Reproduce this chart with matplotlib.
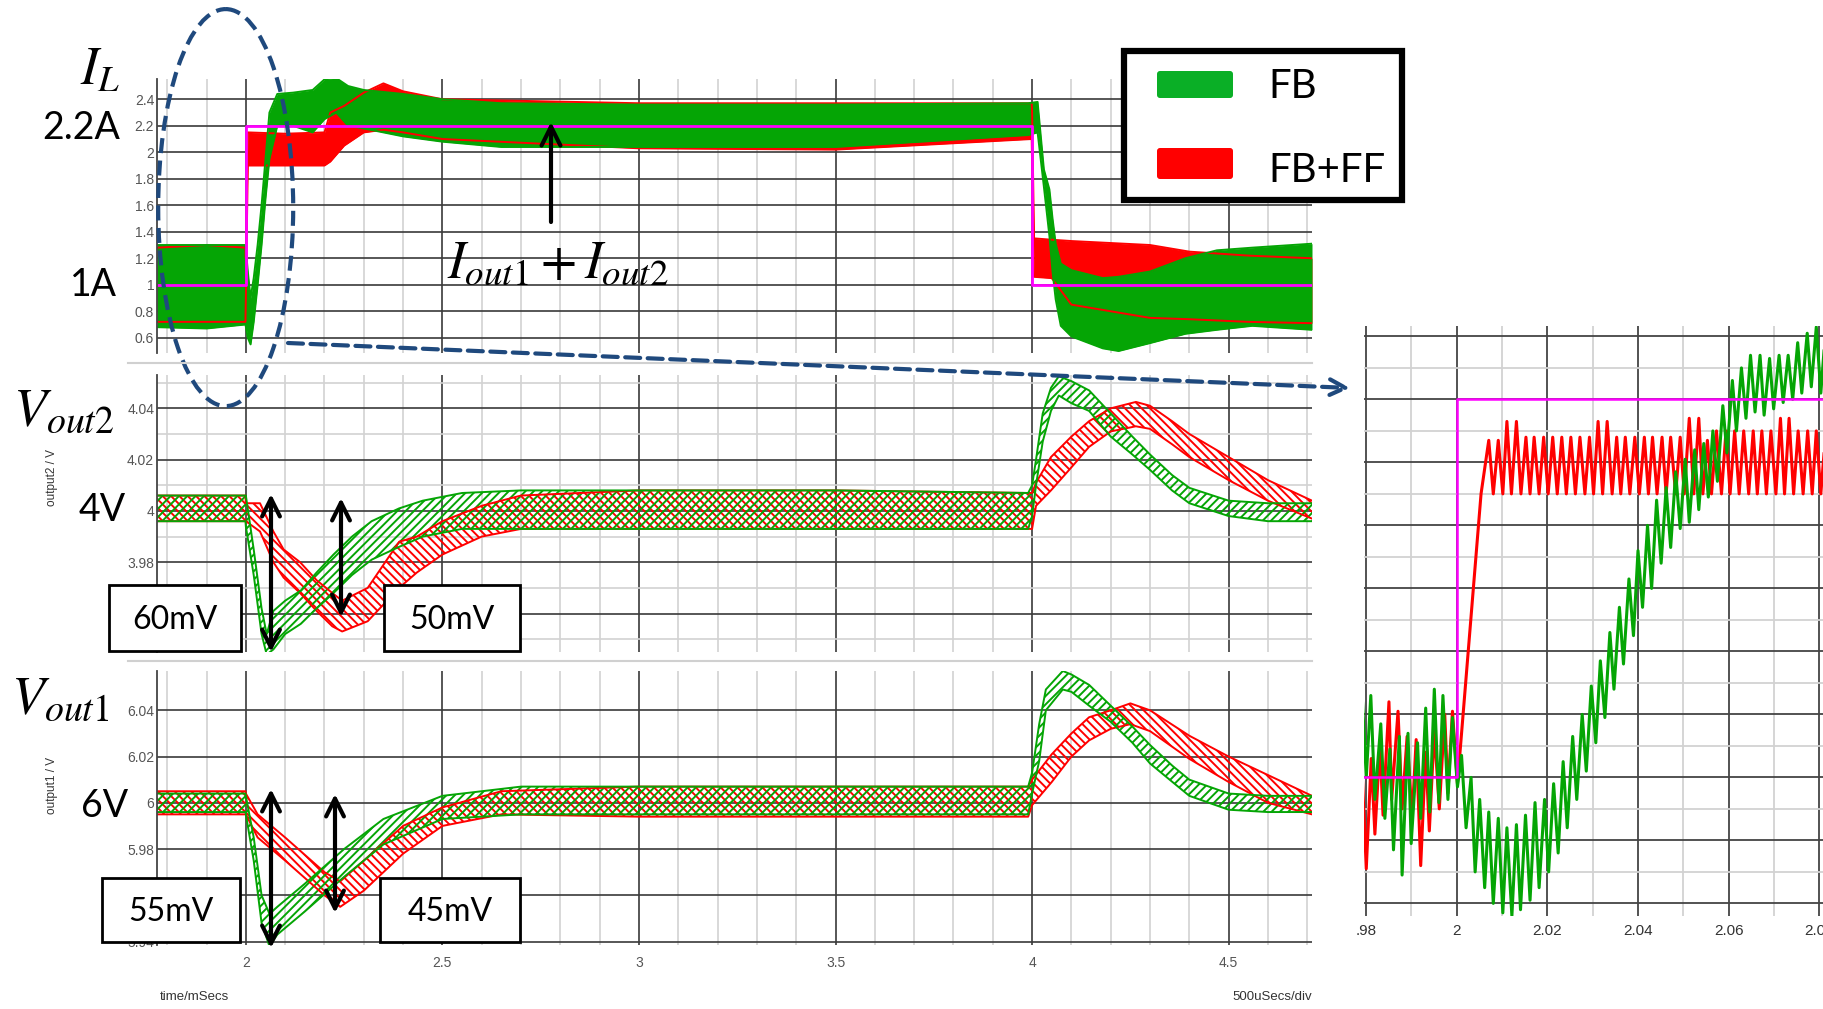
import numpy as np
import matplotlib.pyplot as plt
from matplotlib.patches import Ellipse, Rectangle, FancyBboxPatch

plt.rcParams['mathtext.fontset'] = 'stix'
plt.rcParams['hatch.linewidth'] = 1.4

W, H = 1824, 1009
GREEN = '#05a505'
RED = '#ff0000'
MAGENTA = '#ff00ff'
NAVY = '#1f497d'
TICK_FONT = ['Liberation Sans Narrow', 'Liberation Sans', 'DejaVu Sans']
BIG_FONT = ['Lato', 'DejaVu Sans']

# ---------------- data (time in ms) ----------------
# reference current step (magenta)
ref_t = [1.774, 2.0, 2.0, 4.0, 4.0, 4.712]
ref_v = [1.0, 1.0, 2.2, 2.2, 1.0, 1.0]

# inductor current I_L, ripple envelopes
il_fb_t = [1.774, 1.9, 1.999, 2.005, 2.012, 2.02, 2.03, 2.04, 2.05, 2.06, 2.08, 2.12, 2.17,
           2.2, 2.23, 2.26, 2.3, 2.4, 2.5, 2.65, 3.0, 3.5, 3.99, 4.014, 4.03, 4.044, 4.052,
           4.06, 4.073, 4.1, 4.18, 4.22, 4.3, 4.39, 4.47, 4.56, 4.712]
il_fb_hi = [1.30, 1.30, 1.30, 1.10, 0.90, 1.05, 1.30, 1.60, 1.95, 2.30, 2.44, 2.45, 2.47,
            2.55, 2.56, 2.50, 2.47, 2.44, 2.40, 2.37, 2.36, 2.36, 2.37, 2.38, 1.87, 1.72, 1.50,
            1.31, 1.16, 1.11, 1.05, 1.06, 1.10, 1.20, 1.26, 1.28, 1.31]
il_fb_lo = [0.68, 0.67, 0.70, 0.60, 0.55, 0.72, 1.00, 1.30, 1.65, 1.95, 2.20, 2.20, 2.15,
            2.25, 2.30, 2.20, 2.18, 2.12, 2.08, 2.04, 2.04, 2.04, 2.13, 2.15, 1.74, 1.37, 1.10,
            0.89, 0.69, 0.61, 0.52, 0.50, 0.56, 0.63, 0.66, 0.69, 0.66]
il_ff_t = [1.774, 1.9, 1.999, 2.0, 2.005, 2.1, 2.2, 2.215, 2.25, 2.3, 2.35, 2.4, 2.5, 3.0,
           3.5, 3.999, 4.0, 4.005, 4.05, 4.1, 4.3, 4.4, 4.55, 4.712]
il_ff_hi = [1.28, 1.30, 1.28, 1.20, 2.15, 2.14, 2.15, 2.30, 2.35, 2.45, 2.52, 2.46, 2.40, 2.37,
            2.37, 2.37, 2.30, 1.35, 1.34, 1.33, 1.30, 1.25, 1.22, 1.20]
il_ff_lo = [0.72, 0.72, 0.72, 0.90, 1.90, 1.90, 1.90, 1.93, 2.05, 2.15, 2.17, 2.15, 2.10, 2.03,
            2.02, 2.10, 1.90, 1.06, 1.05, 0.85, 0.75, 0.74, 0.72, 0.71]

# output2 voltage
v2_fb_t = [1.774, 1.999, 2.0, 2.02, 2.04, 2.053, 2.07, 2.1, 2.14, 2.18, 2.223, 2.27, 2.32,
           2.39, 2.45, 2.55, 2.7, 3.0, 3.5, 3.99, 4.0, 4.01, 4.027, 4.048, 4.068, 4.1, 4.145,
           4.2, 4.255, 4.3, 4.356, 4.4, 4.5, 4.6, 4.712]
v2_fb_hi = [4.006, 4.006, 4.006, 3.985, 3.962, 3.952, 3.961, 3.965, 3.969, 3.976, 3.983, 3.990,
            3.996, 4.001, 4.004, 4.007, 4.008, 4.008, 4.008, 4.007, 4.010, 4.020, 4.038, 4.048,
            4.0525, 4.0506, 4.047, 4.038, 4.029, 4.022, 4.014, 4.009, 4.004, 4.003, 4.003]
v2_fb_lo = [3.996, 3.996, 3.994, 3.975, 3.952, 3.944, 3.946, 3.952, 3.956, 3.962, 3.968, 3.975,
            3.981, 3.986, 3.990, 3.993, 3.993, 3.993, 3.993, 3.993, 3.998, 4.010, 4.027, 4.039,
            4.045, 4.042, 4.039, 4.029, 4.022, 4.016, 4.008, 4.003, 3.998, 3.996, 3.996]
v2_ff_t = [1.774, 1.999, 2.0, 2.036, 2.07, 2.096, 2.138, 2.18, 2.22, 2.245, 2.31, 2.39, 2.435,
           2.5, 2.6, 2.7, 3.0, 3.5, 3.99, 4.0, 4.01, 4.048, 4.1, 4.145, 4.2, 4.264, 4.3, 4.356,
           4.4, 4.5, 4.6, 4.712]
v2_ff_hi = [4.006, 4.006, 4.003, 4.003, 3.992, 3.985, 3.980, 3.973, 3.968, 3.965, 3.970, 3.988,
            3.990, 3.996, 4.002, 4.006, 4.008, 4.008, 4.007, 4.007, 4.011, 4.021, 4.029, 4.035,
            4.040, 4.0425, 4.041, 4.035, 4.030, 4.021, 4.012, 4.004]
v2_ff_lo = [3.996, 3.996, 3.996, 3.992, 3.980, 3.974, 3.968, 3.961, 3.955, 3.953, 3.957, 3.970,
            3.976, 3.983, 3.990, 3.993, 3.993, 3.993, 3.993, 3.993, 4.002, 4.008, 4.017, 4.025,
            4.031, 4.033, 4.032, 4.026, 4.021, 4.012, 4.004, 3.997]

# output1 voltage
v1_fb_t = [1.774, 1.999, 2.0, 2.02, 2.04, 2.06, 2.08, 2.15, 2.25, 2.35, 2.5, 2.7, 3.0, 3.5,
           3.99, 4.0, 4.018, 4.035, 4.078, 4.1, 4.145, 4.2, 4.255, 4.3, 4.357, 4.4, 4.5, 4.6, 4.712]
v1_fb_hi = [6.004, 6.004, 6.003, 5.985, 5.960, 5.952, 5.955, 5.965, 5.980, 5.993, 6.003, 6.007,
            6.007, 6.007, 6.007, 6.013, 6.034, 6.049, 6.057, 6.0555, 6.051, 6.042, 6.033, 6.025,
            6.016, 6.010, 6.004, 6.003, 6.003]
v1_fb_lo = [5.996, 5.996, 5.995, 5.975, 5.948, 5.938, 5.943, 5.953, 5.968, 5.982, 5.993, 5.995,
            5.995, 5.995, 5.995, 6.004, 6.018, 6.040, 6.049, 6.048, 6.042, 6.035, 6.026, 6.017,
            6.009, 6.003, 5.997, 5.996, 5.996]
v1_ff_t = [1.774, 1.999, 2.0, 2.03, 2.1, 2.2, 2.24, 2.3, 2.4, 2.5, 2.65, 3.0, 3.5, 3.99, 4.0,
           4.05, 4.1, 4.145, 4.2, 4.25, 4.3, 4.4, 4.5, 4.6, 4.712]
v1_ff_hi = [6.005, 6.005, 6.004, 5.995, 5.985, 5.970, 5.966, 5.975, 5.990, 5.998, 6.005, 6.007,
            6.007, 6.007, 6.010, 6.021, 6.030, 6.037, 6.040, 6.043, 6.040, 6.029, 6.020, 6.012, 6.003]
v1_ff_lo = [5.995, 5.995, 5.995, 5.985, 5.975, 5.960, 5.955, 5.962, 5.978, 5.990, 5.995, 5.994,
            5.994, 5.994, 5.999, 6.009, 6.020, 6.027, 6.032, 6.034, 6.031, 6.019, 6.009, 6.000, 5.995]

# zoomed inset of I_L around the step
zoom_ref_t = [1.9796, 2.0, 2.0, 2.081]
zoom_ref_v = [1.0, 1.0, 2.2, 2.2]

zoom_ff_pre_t = [1.9791, 1.9801, 1.9812, 1.9820, 1.9831, 1.9838, 1.9851, 1.9857, 1.9871, 1.9880,
                 1.9891, 1.9902, 1.9911, 1.9921, 1.9932, 1.9940, 1.9951, 1.9962, 1.9974, 1.9981,
                 1.9991, 2.0002, 2.0054]
zoom_ff_pre_v = [1.05, 0.71, 1.06, 0.82, 1.10, 0.88, 1.24, 0.93, 1.21, 0.90,
                 1.13, 0.87, 1.12, 0.72, 1.08, 0.83, 1.15, 0.90, 1.20, 0.95,
                 1.21, 0.98, 1.90]
zoom_ff_pk_t = [2.0071, 2.0092, 2.0111, 2.0132, 2.0153, 2.0171, 2.0192, 2.0212, 2.0232, 2.0252,
                2.0272, 2.0293, 2.0312, 2.0332, 2.0353, 2.0372, 2.0393, 2.0414, 2.0432, 2.0453,
                2.0472, 2.0493, 2.0513, 2.0534, 2.0553, 2.0573, 2.0594, 2.0613, 2.0633, 2.0654,
                2.0673, 2.0693, 2.0714, 2.0733, 2.0753, 2.0774, 2.0793, 2.0814]
zoom_ff_pk_v = [2.07, 2.07, 2.13, 2.13, 2.08, 2.08, 2.08, 2.08, 2.08, 2.08,
                2.08, 2.08, 2.13, 2.13, 2.08, 2.08, 2.08, 2.08, 2.08, 2.08,
                2.08, 2.08, 2.14, 2.14, 2.07, 2.10, 2.10, 2.10, 2.10, 2.10,
                2.10, 2.10, 2.14, 2.14, 2.10, 2.10, 2.10, 2.10]
zoom_ff_tr_t = [2.0081, 2.0102, 2.0121, 2.0142, 2.0162, 2.0182, 2.0202, 2.0222, 2.0242, 2.0262,
                2.0283, 2.0302, 2.0322, 2.0343, 2.0362, 2.0382, 2.0403, 2.0423, 2.0442, 2.0462,
                2.0483, 2.0502, 2.0523, 2.0543, 2.0562, 2.0584, 2.0603, 2.0623, 2.0644, 2.0663,
                2.0683, 2.0704, 2.0723, 2.0743, 2.0764, 2.0784, 2.0803, 2.0823]
zoom_ff_tr_v = [1.90, 1.90, 1.90, 1.90, 1.90, 1.90, 1.90, 1.90, 1.90, 1.90,
                1.90, 1.90, 1.90, 1.90, 1.90, 1.90, 1.90, 1.90, 1.90, 1.90,
                1.90, 1.90, 1.90, 1.90, 1.90, 1.90, 1.90, 1.90, 1.90, 1.90,
                1.90, 1.90, 1.90, 1.90, 1.90, 1.90, 1.90, 1.90]

zoom_fb_t = [1.9791, 1.9801, 1.9811, 1.9820, 1.9833, 1.9842, 1.9853, 1.9861, 1.9874, 1.9880,
             1.9893, 1.9900, 1.9914, 1.9921, 1.9932, 1.9941, 1.9951, 1.9961, 1.9970, 1.9981,
             1.9991, 2.0002, 2.0011, 2.0021, 2.0032, 2.0041, 2.0051, 2.0062, 2.0071, 2.0081,
             2.0092, 2.0102, 2.0111, 2.0122, 2.0132, 2.0141, 2.0152, 2.0162, 2.0173, 2.0182,
             2.0194, 2.0203, 2.0214, 2.0224, 2.0235, 2.0244, 2.0256, 2.0265, 2.0277, 2.0286,
             2.0297, 2.0307, 2.0317, 2.0327, 2.0338, 2.0347, 2.0359, 2.0368, 2.0380, 2.0390,
             2.0400, 2.0410, 2.0421, 2.0430, 2.0441, 2.0451, 2.0462, 2.0472, 2.0483, 2.0493,
             2.0504, 2.0513, 2.0525, 2.0534, 2.0545, 2.0555, 2.0565, 2.0575, 2.0587, 2.0596,
             2.0608, 2.0617, 2.0628, 2.0638, 2.0648, 2.0658, 2.0669, 2.0678, 2.0690, 2.0699,
             2.0711, 2.0720, 2.0731, 2.0741, 2.0752, 2.0761, 2.0773, 2.0782, 2.0793, 2.0803,
             2.0814]
zoom_fb_v = [1.29, 1.00, 1.26, 0.93, 1.17, 0.87, 1.09, 0.77, 1.13, 0.69,
             1.14, 0.79, 1.11, 0.87, 1.22, 0.89, 1.28, 0.92, 1.26, 0.93,
             1.19, 0.97, 1.07, 0.84, 1.00, 0.70, 0.93, 0.65, 0.89, 0.60,
             0.87, 0.57, 0.84, 0.56, 0.85, 0.58, 0.88, 0.61, 0.92, 0.65,
             0.93, 0.70, 0.98, 0.76, 1.05, 0.84, 1.13, 0.93, 1.20, 1.02,
             1.29, 1.11, 1.37, 1.19, 1.46, 1.28, 1.54, 1.36, 1.63, 1.45,
             1.72, 1.54, 1.80, 1.60, 1.88, 1.68, 1.92, 1.73, 1.97, 1.79,
             2.01, 1.81, 2.04, 1.85, 2.06, 1.89, 2.10, 1.94, 2.18, 2.03,
             2.26, 2.10, 2.30, 2.14, 2.34, 2.16, 2.34, 2.15, 2.33, 2.17,
             2.34, 2.19, 2.34, 2.20, 2.38, 2.22, 2.41, 2.24, 2.43, 2.22,
             2.43]

# tick labels (3.96 and 5.96 sit behind the annotation boxes in the original)
il_ticks = [2.4, 2.2, 2.0, 1.8, 1.6, 1.4, 1.2, 1.0, 0.8, 0.6]
il_labels = ['2.4', '2.2', '2', '1.8', '1.6', '1.4', '1.2', '1', '0.8', '0.6']
v2_ticks = [4.04, 4.02, 4.0, 3.98, 3.96]
v2_labels = ['4.04', '4.02', '4', '3.98', '']
v1_ticks = [6.04, 6.02, 6.0, 5.98, 5.96, 5.94]
v1_labels = ['6.04', '6.02', '6', '5.98', '', '5.94']
t_ticks = [2.0, 2.5, 3.0, 3.5, 4.0, 4.5]
t_labels = ['2', '2.5', '3', '3.5', '4', '4.5']
zoom_ticks = [1.98, 2.0, 2.02, 2.04, 2.06, 2.08]
zoom_labels = ['.98', '2', '2.02', '2.04', '2.06', '2.08']


def rect(x0, y0, x1, y1):
    return [x0 / W, 1 - y1 / H, (x1 - x0) / W, (y1 - y0) / H]


def band(ax, t, lo, hi, color, hatch=None):
    if hatch:
        ax.fill_between(t, lo, hi, facecolor='none', edgecolor=color, hatch=hatch, linewidth=0)
    else:
        ax.fill_between(t, lo, hi, color=color, linewidth=0)
    ax.plot(t, lo, color=color, lw=1.4)
    ax.plot(t, hi, color=color, lw=1.4)


def style(ax, ylim, yticks, ylabels, yminor=(), xlabels=False):
    ax.set_xlim(1.774, 4.712)
    ax.set_ylim(*ylim)
    ax.set_xticks(t_ticks, labels=t_labels if xlabels else [''] * len(t_ticks),
                  fontfamily=TICK_FONT, fontsize=10, color='#555555')
    ax.set_xticks(np.arange(1.8, 4.71, 0.1), minor=True)
    ax.set_yticks(yticks, labels=ylabels, fontfamily=TICK_FONT, fontsize=10, color='#555555')
    ax.set_yticks(list(yminor), minor=True)
    ax.tick_params(which='both', length=0, pad=2)
    ax.tick_params(axis='x', pad=8)
    ax.grid(which='major', color='#3a3a3a', lw=1.2)
    ax.grid(which='minor', color='#d2d2d2', lw=1.2)
    ax.set_axisbelow(True)
    for s in ['top', 'right', 'bottom']:
        ax.spines[s].set_visible(False)
    ax.spines['left'].set_color('#444444')
    ax.spines['left'].set_linewidth(1.3)


fig = plt.figure(figsize=(W / 100, H / 100), dpi=100)

ax_i = fig.add_axes(rect(157, 79, 1312, 353))
band(ax_i, il_ff_t, il_ff_lo, il_ff_hi, RED)
band(ax_i, il_fb_t, il_fb_lo, il_fb_hi, GREEN)
ax_i.plot(ref_t, ref_v, color=MAGENTA, lw=2)
style(ax_i, (0.485, 2.553), il_ticks, il_labels)

ax_v2 = fig.add_axes(rect(157, 375, 1312, 652))
band(ax_v2, v2_ff_t, v2_ff_lo, v2_ff_hi, RED, hatch='\\\\\\\\')
band(ax_v2, v2_fb_t, v2_fb_lo, v2_fb_hi, GREEN, hatch='////')
style(ax_v2, (3.945, 4.053), v2_ticks, v2_labels, yminor=[4.05, 4.03, 4.01, 3.99, 3.97, 3.95])

ax_v1 = fig.add_axes(rect(157, 671, 1312, 945))
band(ax_v1, v1_ff_t, v1_ff_lo, v1_ff_hi, RED, hatch='\\\\\\\\')
band(ax_v1, v1_fb_t, v1_fb_lo, v1_fb_hi, GREEN, hatch='////')
style(ax_v1, (5.9385, 6.057), v1_ticks, v1_labels, xlabels=True)

# inset
ax_z = fig.add_axes(rect(1364, 326, 1824, 916))
ff_t = np.column_stack([zoom_ff_pk_t, zoom_ff_tr_t]).ravel()
ff_v = np.column_stack([zoom_ff_pk_v, zoom_ff_tr_v]).ravel()
ax_z.plot(np.concatenate([zoom_ff_pre_t, ff_t]), np.concatenate([zoom_ff_pre_v, ff_v]),
          color=RED, lw=2.2)
ax_z.plot(zoom_fb_t, zoom_fb_v, color=GREEN, lw=2.2)
ax_z.plot(zoom_ref_t, zoom_ref_v, color=MAGENTA, lw=1.8)
ax_z.set_xlim(1.9796, 2.081)
ax_z.set_ylim(0.56, 2.433)
ax_z.set_xticks(zoom_ticks, labels=zoom_labels, fontfamily=TICK_FONT, fontsize=11, color='#333333')
ax_z.set_xticks(np.arange(1.99, 2.075, 0.02), minor=True)
ax_z.set_yticks(np.arange(0.6, 2.41, 0.2), labels=[])
ax_z.set_yticks(np.arange(0.7, 2.31, 0.2), minor=True)
ax_z.tick_params(which='both', length=0, pad=6)
ax_z.grid(which='major', color='#444444', lw=1.3)
ax_z.grid(which='minor', color='#d2d2d2', lw=1.3)
ax_z.set_axisbelow(True)
for s in ax_z.spines.values():
    s.set_visible(False)

# overlay for annotations, in figure pixels
ov = fig.add_axes([0, 0, 1, 1])
ov.set_xlim(0, W)
ov.set_ylim(H, 0)
ov.axis('off')

for y in (363, 661):
    ov.plot([128, 1312], [y, y], color='#d0d0d0', lw=1.5)

ov.text(52, 477, 'output2 / V', rotation=90, ha='center', va='center', fontsize=8.5,
        family=TICK_FONT, color='#333333')
ov.text(52, 785, 'output1 / V', rotation=90, ha='center', va='center', fontsize=8.5,
        family=TICK_FONT, color='#333333')
ov.text(160, 997, 'time/mSecs', ha='left', va='center', fontsize=9.5, family=TICK_FONT, color='#333333')
ov.text(1312, 997, '500uSecs/div', ha='right', va='center', fontsize=9.5, family=TICK_FONT,
        color='#333333')

ov.text(100, 70, r'$I_L$', ha='center', va='center', fontsize=38)
ov.text(64, 411, r'$V_{out2}$', ha='center', va='center', fontsize=39)
ov.text(60, 699, r'$V_{out1}$', ha='center', va='center', fontsize=39)
ov.text(558, 263, r'$I_{out1}+I_{out2}$', ha='center', va='center', fontsize=38)

for s, x, y in [('2.2A', 81, 128), ('1A', 93, 285), ('4V', 102, 510), ('6V', 105, 806)]:
    ov.text(x, y, s, ha='center', va='center', fontsize=27, family=BIG_FONT)

ov.add_patch(Ellipse((225.7, 207.6), 135, 397, fill=False, ec=NAVY, lw=3, ls=(0, (3.6, 1.8))))
ov.annotate('', xy=(1350, 388), xytext=(288, 343),
            arrowprops=dict(arrowstyle='->', ls=(0, (3.6, 1.8)), lw=3, color=NAVY,
                            mutation_scale=28, shrinkA=0, shrinkB=0))

ov.annotate('', xy=(551, 122), xytext=(551, 222),
            arrowprops=dict(arrowstyle='->', lw=3, color='k', mutation_scale=34,
                            shrinkA=0, shrinkB=0))
for x, y0, y1 in [(271, 494, 652), (341, 498, 617), (271, 789, 948), (335, 794, 913)]:
    ov.annotate('', xy=(x, y1), xytext=(x, y0),
                arrowprops=dict(arrowstyle='<->', lw=3, color='k', mutation_scale=32,
                                shrinkA=0, shrinkB=0))

for s, x0, y0, x1, y1 in [('60mV', 109, 585, 241, 651), ('50mV', 384, 585, 520, 651),
                          ('55mV', 102, 878, 240, 942), ('45mV', 380, 878, 520, 942)]:
    ov.add_patch(Rectangle((x0, y0), x1 - x0, y1 - y0, fc='white', ec='k', lw=2))
    ov.text((x0 + x1) / 2, (y0 + y1) / 2 + 2, s, ha='center', va='center', fontsize=23,
            family=BIG_FONT)

# legend
ov.add_patch(Rectangle((1124, 51), 278, 149, fc='white', ec='k', lw=4.5))
ov.add_patch(FancyBboxPatch((1157, 71), 76, 27, boxstyle='round,pad=0,rounding_size=3',
                            fc='#0aaf26', ec='none'))
ov.add_patch(FancyBboxPatch((1157, 148), 76, 31, boxstyle='round,pad=0,rounding_size=3',
                            fc=RED, ec='none'))
ov.text(1268, 86, 'FB', ha='left', va='center', fontsize=29, family=BIG_FONT)
ov.text(1268, 171, 'FB+FF', ha='left', va='center', fontsize=29, family=BIG_FONT)

fig.savefig('out.png', dpi=100)
